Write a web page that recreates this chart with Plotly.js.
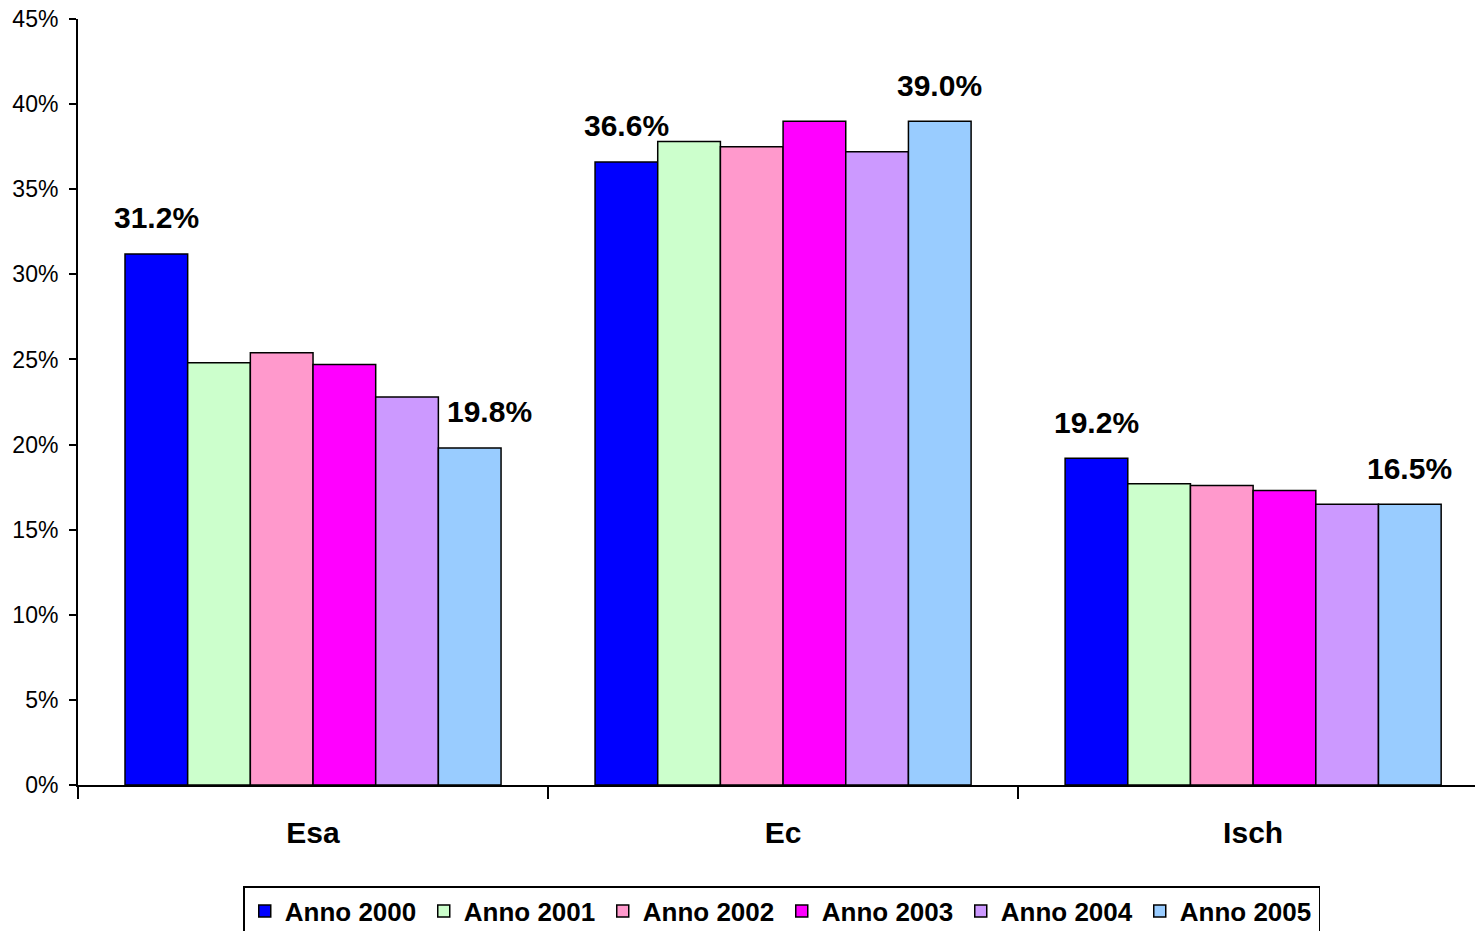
<!DOCTYPE html>
<html>
<head>
<meta charset="utf-8">
<script src="https://cdn.plot.ly/plotly-3.0.1.min.js"></script>
<style>html,body{margin:0;padding:0;background:#fff;}#chart{width:1475px;height:931px;}</style>
</head>
<body>
<div id="chart"></div>
<script>
const categories = ["Esa", "Ec", "Isch"];
const seriesNames = ["Anno 2000", "Anno 2001", "Anno 2002", "Anno 2003", "Anno 2004", "Anno 2005"];
const anno2000 = [0.312, 0.366, 0.192];
const anno2001 = [0.248, 0.378, 0.177];
const anno2002 = [0.254, 0.375, 0.176];
const anno2003 = [0.247, 0.390, 0.173];
const anno2004 = [0.228, 0.372, 0.165];
const anno2005 = [0.198, 0.390, 0.165];
const seriesColors = ["#0000FF", "#CCFFCC", "#FF99CC", "#FF00FF", "#CC99FF", "#99CCFF"];
// which series get a value label (first and last year)
const labelledSeries = [0, 5];

const allSeries = [anno2000, anno2001, anno2002, anno2003, anno2004, anno2005];
const FONT = "Liberation Sans, Arial, Helvetica, sans-serif";

const traces = allSeries.map((vals, i) => ({
  type: "bar",
  name: seriesNames[i],
  x: categories,
  y: vals,
  marker: {color: seriesColors[i], line: {color: "#000", width: 1.5}},
  hoverinfo: "skip"
}));

const nS = allSeries.length;
const gap = 0.2;
const barW = (1 - gap) / nS;
const annotations = [];
labelledSeries.forEach(si => {
  categories.forEach((c, ci) => {
    const offset = -0.5 * (1 - gap) + barW * (si + 0.5);
    annotations.push({
      x: ci + offset,
      xref: "x",
      y: allSeries[si][ci],
      yref: "y",
      text: (allSeries[si][ci] * 100).toFixed(1) + "%",
      showarrow: false,
      yanchor: "middle",
      xanchor: "center",
      yshift: 36,
      xshift: (si === 5 && ci === 0) ? 20 : 0,
      font: {family: FONT, size: 30, color: "#000", weight: "bold"}
    });
  });
});

const layout = {
  width: 1475,
  height: 931,
  margin: {l: 78, r: 0, t: 19, b: 146},
  paper_bgcolor: "#fff",
  plot_bgcolor: "#fff",
  barmode: "group",
  bargap: gap,
  bargroupgap: 0,
  showlegend: true,
  font: {family: FONT, color: "#000"},
  xaxis: {
    type: "category",
    range: [-0.5, 2.472],
    showline: true,
    linecolor: "#000",
    linewidth: 2,
    ticks: "outside",
    tickson: "boundaries",
    ticklen: 12,
    tickwidth: 2,
    tickcolor: "#000",
    ticklabelstandoff: 20,
    tickfont: {family: FONT, size: 30, color: "#000", weight: "bold"},
    showgrid: false,
    zeroline: false,
    fixedrange: true
  },
  yaxis: {
    range: [0, 0.45],
    dtick: 0.05,
    tickformat: ".0%",
    showline: true,
    linecolor: "#000",
    linewidth: 2,
    ticks: "outside",
    ticklen: 7,
    tickwidth: 2,
    tickcolor: "#000",
    ticklabelstandoff: 6,
    tickfont: {family: FONT, size: 23, color: "#000"},
    showgrid: false,
    zeroline: false,
    fixedrange: true
  },
  legend: {
    orientation: "h",
    xref: "container",
    yref: "container",
    x: 0.53,
    xanchor: "center",
    y: 1 - 886 / 931,
    yanchor: "top",
    bordercolor: "#000",
    borderwidth: 1.5,
    bgcolor: "#fff",
    entrywidth: 134,
    entrywidthmode: "pixels",
    font: {family: FONT, size: 26, color: "#000", weight: "bold"},
    itemclick: false,
    itemdoubleclick: false
  },
  annotations: annotations
};

Plotly.newPlot("chart", traces, layout, {displayModeBar: false, staticPlot: true});
</script>
</body>
</html>
